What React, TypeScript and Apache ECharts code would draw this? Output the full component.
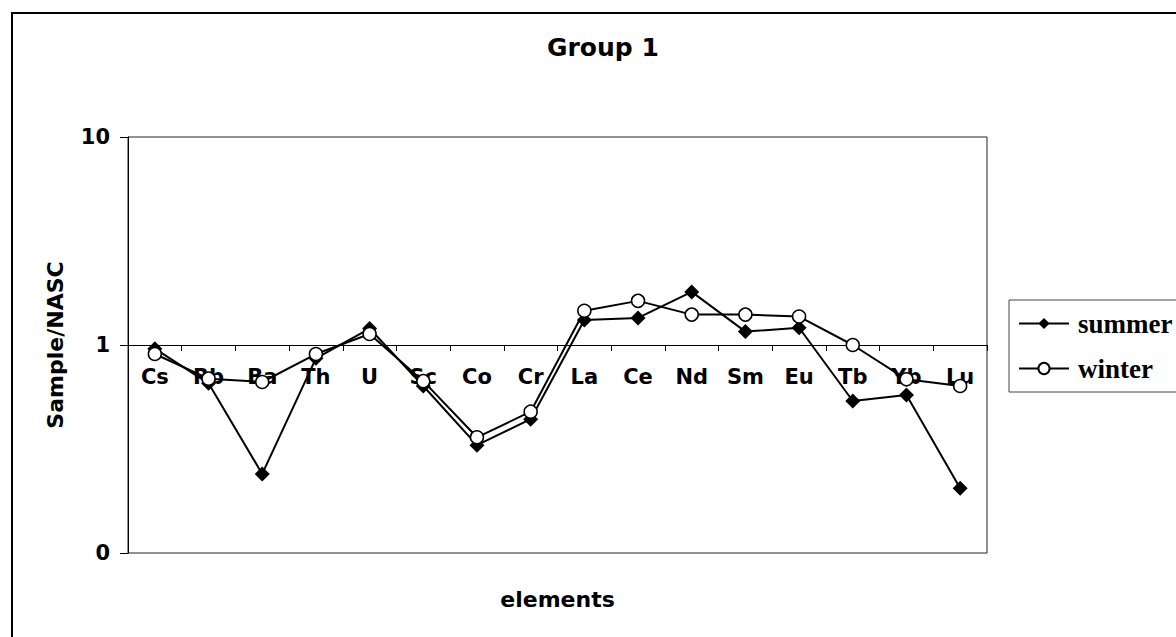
import React, { useEffect, useRef } from "react";
import * as echarts from "echarts";

const categories = ["Cs", "Rb", "Ba", "Th", "U", "Sc", "Co", "Cr", "La", "Ce", "Nd", "Sm", "Eu", "Tb", "Yb", "Lu"];
const summer = [0.96, 0.654, 0.24, 0.863, 1.2, 0.635, 0.33, 0.44, 1.32, 1.35, 1.8, 1.16, 1.21, 0.538, 0.575, 0.205];
const winter = [0.905, 0.689, 0.664, 0.905, 1.13, 0.67, 0.36, 0.478, 1.46, 1.63, 1.4, 1.4, 1.37, 1.0, 0.684, 0.635];
const yTickLabels: Record<string, string> = { "0.1": "0", "1": "1", "10": "10" };
const xAxisTitle = "elements";

const SANS = "DejaVu Sans";

export default function App() {
  const ref = useRef<HTMLDivElement>(null);
  useEffect(() => {
    if (!ref.current) return;
    const chart = echarts.init(ref.current, undefined, { renderer: "svg" });
    chart.setOption({
      animation: false,
      backgroundColor: "#fff",
      title: {
        text: "Group 1",
        left: 542,
        top: 30,
        textStyle: { fontFamily: SANS, fontWeight: "bold", fontSize: 25, color: "#000" },
      },
      graphic: [
        {
          type: "rect",
          shape: { x: 12, y: 13, width: 1300, height: 800 },
          style: { fill: "none", stroke: "#000", lineWidth: 2 },
          silent: true,
        },
        {
          type: "text",
          x: 557.5,
          y: 599,
          style: {
            text: xAxisTitle,
            fill: "#000",
            font: `bold 22px "${SANS}"`,
            textAlign: "center",
            textVerticalAlign: "middle",
          },
          silent: true,
        },
      ],
      legend: {
        orient: "vertical",
        left: 1009,
        top: 300,
        data: ["summer", "winter"],
        borderColor: "#444",
        borderWidth: 1,
        borderRadius: 0,
        padding: [10, 10, 10, 9],
        itemWidth: 50,
        itemHeight: 14,
        itemGap: 18,
        textStyle: {
          fontFamily: "Liberation Serif",
          fontWeight: "bold",
          fontSize: 27,
          color: "#000",
          padding: [0, 0, 0, 4],
        },
      },
      grid: {
        left: 128,
        top: 137,
        width: 859,
        height: 416,
        containLabel: false,
        outerBoundsMode: "none",
        show: true,
        borderColor: "#222",
        borderWidth: 1,
        backgroundColor: "transparent",
      },
      xAxis: {
        type: "category",
        data: categories,
        boundaryGap: true,
        axisLine: { onZero: true, onZeroAxisIndex: 1, lineStyle: { color: "#000", width: 1 } },
        axisTick: { show: true, length: 6, inside: false, lineStyle: { color: "#000" } },
        axisLabel: {
          interval: 0,
          margin: -187,
          fontFamily: SANS,
          fontWeight: "bold",
          fontSize: 21,
          color: "#000",
        },
        splitLine: { show: false },
      },
      yAxis: [
        {
          type: "log",
          logBase: 10,
          min: 0.1,
          max: 10,
          name: "Sample/NASC",
          nameLocation: "middle",
          nameGap: 62,
          nameTextStyle: { fontFamily: SANS, fontWeight: "bold", fontSize: 22, color: "#000" },
          axisLine: { show: true, lineStyle: { color: "#000", width: 1 } },
          axisTick: { show: true, length: 8, inside: false, lineStyle: { color: "#000" } },
          minorTick: { show: false },
          splitLine: { show: false },
          axisLabel: {
            margin: 18,
            fontFamily: SANS,
            fontWeight: "bold",
            fontSize: 21,
            color: "#000",
            formatter: (v: number) => {
              const key = String(Math.round(v * 10) / 10);
              return yTickLabels[key] ?? key;
            },
          },
        },
        {
          type: "value",
          min: -1,
          max: 1,
          show: false,
        },
      ],
      series: [
        {
          name: "summer",
          type: "line",
          yAxisIndex: 0,
          data: summer,
          symbol: "diamond",
          symbolSize: [15, 15],
          lineStyle: { color: "#000", width: 2 },
          itemStyle: { color: "#000", borderColor: "#000", borderWidth: 0 },
          z: 3,
        },
        {
          name: "winter",
          type: "line",
          yAxisIndex: 0,
          data: winter,
          symbol: "circle",
          symbolSize: 13,
          showAllSymbol: true,
          lineStyle: { color: "#000", width: 2 },
          itemStyle: { color: "#fff", borderColor: "#000", borderWidth: 1.5 },
          z: 4,
        },
      ],
    });
    return () => chart.dispose();
  }, []);
  return (
    <div
      ref={ref}
      style={{ position: "fixed", left: 0, top: 0, width: 1176, height: 637, background: "#fff" }}
    />
  );
}
